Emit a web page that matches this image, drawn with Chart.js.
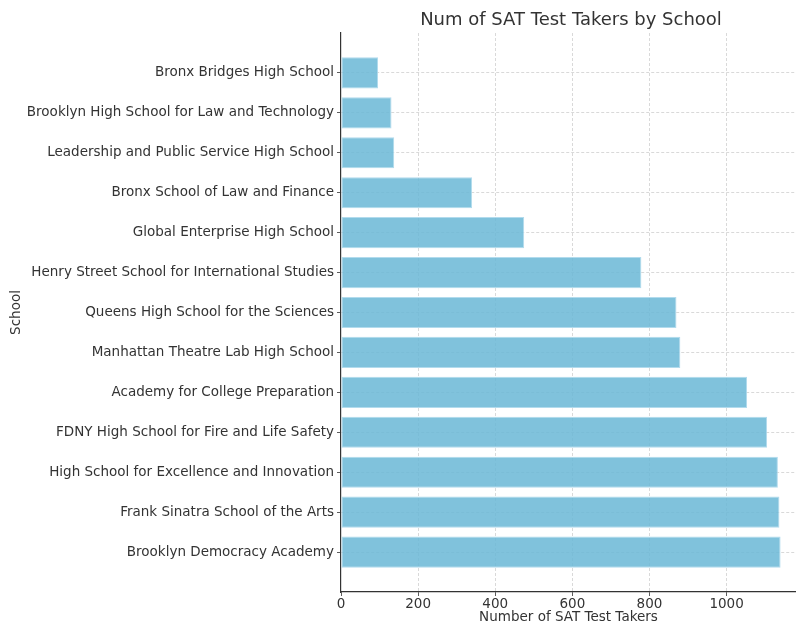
<!DOCTYPE html>
<html>
<head>
<meta charset="utf-8">
<script src="https://cdn.jsdelivr.net/npm/chart.js@4"></script>
<style>
  body { margin: 0; background: #fff; }
  #wrap { position: relative; width: 796px; height: 624px; }
  #title {
    position: absolute; left: 341px; width: 460px; top: 8px;
    text-align: center; font: 18px "DejaVu Sans", sans-serif; color: #333;
  }
</style>
</head>
<body>
<div id="wrap">
  <canvas id="satChart" width="796" height="624"></canvas>
  <div id="title">Num of SAT Test Takers by School</div>
</div>
<script>
const schools = [
    'Bronx Bridges High School',
    'Brooklyn High School for Law and Technology',
    'Leadership and Public Service High School',
    'Bronx School of Law and Finance',
    'Global Enterprise High School',
    'Henry Street School for International Studies',
    'Queens High School for the Sciences',
    'Manhattan Theatre Lab High School',
    'Academy for College Preparation',
    'FDNY High School for Fire and Life Safety',
    'High School for Excellence and Innovation',
    'Frank Sinatra School of the Arts',
    'Brooklyn Democracy Academy'
];
const testTakers = [96, 131, 138, 340, 475, 779, 870, 880, 1053, 1105, 1133, 1137, 1140];
const xTicks = [0, 200, 400, 600, 800, 1000];

// empty slots at both ends give the extra room matplotlib leaves around the bars
const labels = [''].concat(schools, ['']);
const values = [null].concat(testTakers, [null]);

const textColor = '#333';
const font = { family: 'DejaVu Sans', size: 13.5 };
const isPad = i => i === 0 || i === labels.length - 1;

const ctx = document.getElementById('satChart').getContext('2d');
new Chart(ctx, {
    type: 'bar',
    data: {
        labels: labels,
        datasets: [{
            label: 'Num of SAT Test Takers',
            data: values,
            backgroundColor: 'rgba(110, 185, 215, 0.88)',
            borderColor: 'rgba(170, 215, 235, 0.9)',
            borderWidth: 1,
            borderSkipped: false,
            categoryPercentage: 1,
            barPercentage: 0.78
        }]
    },
    options: {
        indexAxis: 'y',
        responsive: false,
        animation: false,
        layout: { padding: { top: 33, right: 0, bottom: 0, left: 0 } },
        plugins: {
            legend: { display: false },
            tooltip: { enabled: false }
        },
        scales: {
            x: {
                type: 'linear',
                min: 0,
                max: 1180,
                afterBuildTicks: scale => {
                    scale.ticks = xTicks.map(v => ({ value: v }));
                },
                afterFit: scale => { scale.height = 32; },
                ticks: { color: textColor, font: font, padding: 0, callback: v => String(v) },
                grid: {
                    color: c => (c.tick && c.tick.value === 0) ? 'rgba(0,0,0,0)' : '#cfcfcf',
                    lineWidth: 0.8,
                    tickColor: textColor,
                    tickLength: 4
                },
                border: { display: true, color: '#333', width: 1.2, dash: [3, 2] },
                title: {
                    display: true,
                    text: 'Number of SAT Test Takers',
                    color: textColor,
                    font: font,
                    padding: { top: 0, bottom: -2 }
                }
            },
            y: {
                offset: false,
                afterFit: scale => { scale.width = 341; },
                ticks: { color: textColor, font: font, padding: 3, autoSkip: false },
                grid: {
                    offset: false,
                    color: c => isPad(c.index) ? 'rgba(0,0,0,0)' : '#cfcfcf',
                    tickColor: c => isPad(c.index) ? 'rgba(0,0,0,0)' : textColor,
                    lineWidth: 0.8,
                    tickLength: 4
                },
                border: { display: true, color: '#333', width: 1.2, dash: [3, 2] },
                title: {
                    display: true,
                    text: 'School',
                    color: textColor,
                    font: font,
                    padding: { top: 8, bottom: 0 }
                }
            }
        }
    }
});
</script>
</body>
</html>
